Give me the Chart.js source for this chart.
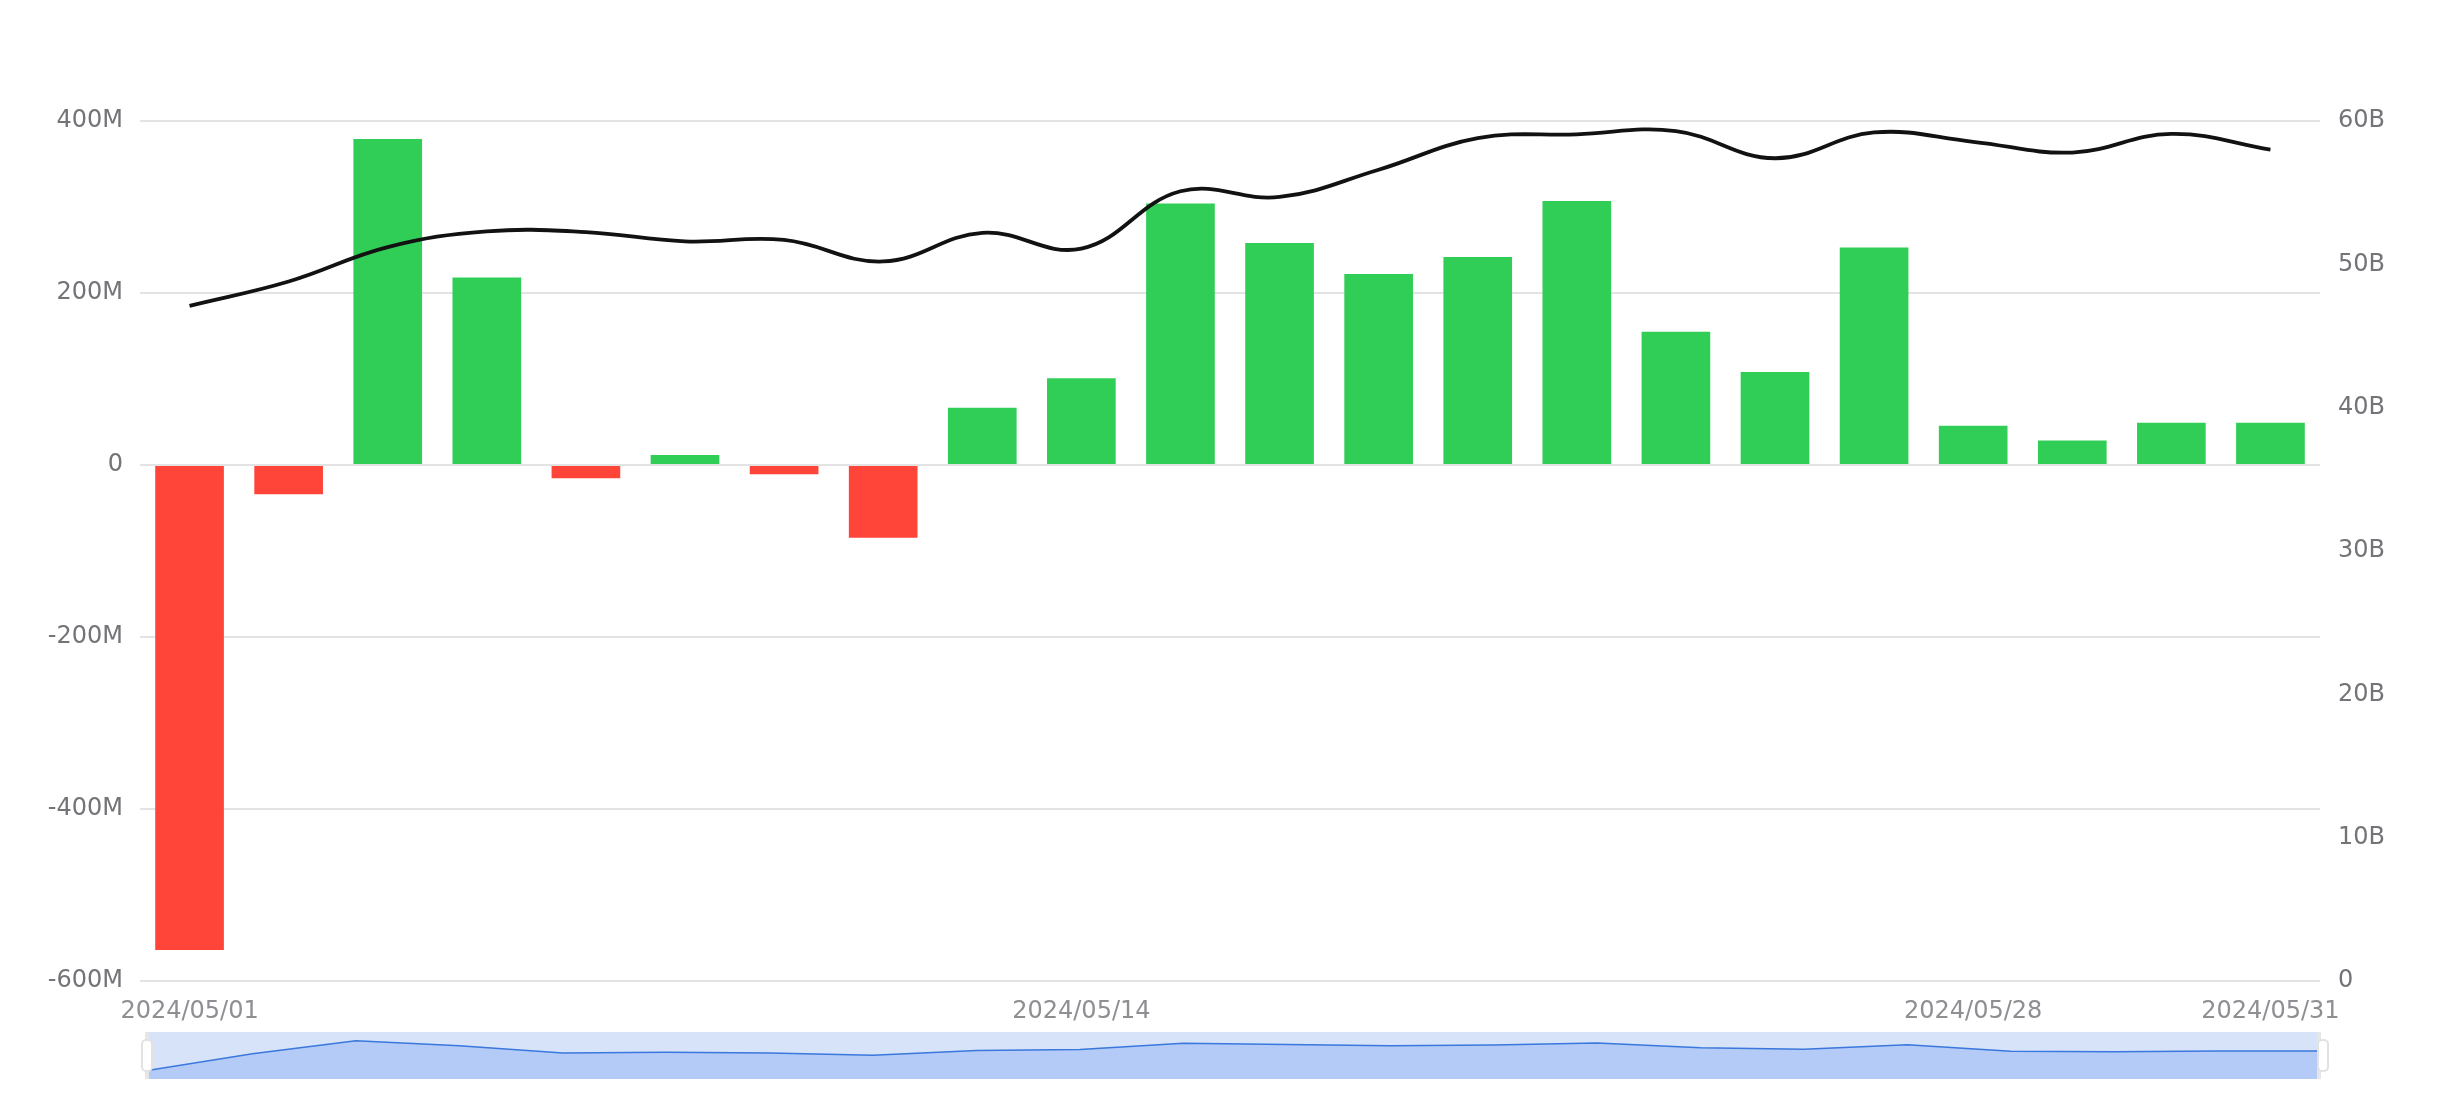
<!DOCTYPE html>
<html>
<head>
<meta charset="utf-8">
<script src="https://cdn.jsdelivr.net/npm/chart.js@4.4.1/dist/chart.umd.min.js"></script>
<style>
  html, body { margin: 0; padding: 0; background: #ffffff; }
  #wrap { position: relative; width: 2460px; height: 1120px; overflow: hidden; }
  #main { position: absolute; left: 0; top: 0; }
  #zoom { position: absolute; left: 149px; top: 1032px; background: #d6e3f9; }
  .bar { position: absolute; background: #e6e6e6; }
  .handle { position: absolute; background: #ffffff; border: 2px solid #e2e2e2; border-radius: 5px; box-sizing: border-box; }
</style>
</head>
<body>
<div id="wrap">
  <canvas id="main" width="2460" height="1120"></canvas>
  <canvas id="zoom" width="2172" height="47"></canvas>
  <div class="bar" style="left:145px;top:1032px;width:4px;height:47px;"></div>
  <div class="handle" style="left:141px;top:1039px;width:12px;height:33px;"></div>
  <div class="bar" style="left:2317px;top:1032px;width:4px;height:47px;"></div>
  <div class="handle" style="left:2317px;top:1039px;width:12px;height:33px;"></div>
</div>
<script>
// ---- data ----
const dates = ['2024/05/01','2024/05/02','2024/05/03','2024/05/06','2024/05/07','2024/05/08','2024/05/09','2024/05/10',
  '2024/05/13','2024/05/14','2024/05/15','2024/05/16','2024/05/17','2024/05/20','2024/05/21','2024/05/22',
  '2024/05/23','2024/05/24','2024/05/28','2024/05/29','2024/05/30','2024/05/31'];
// net flow, millions
const netFlowM = [-564, -34, 379, 218, -15.5, 11.7, -10.9, -84.6, 66.5, 101, 304, 258, 222, 242, 307, 155,
  108, 253, 45.5, 28.4, 49, 49];
// cumulative / total, billions
const totalB = [47.1, 48.8, 51.2, 52.3, 52.25, 51.6, 51.7, 50.2, 52.2, 51.1, 55.1, 54.7, 56.6, 58.8, 59.07, 59.3,
  57.4, 59.2, 58.55, 57.8, 59.1, 58.0];
// x tick labels that are shown
const shownTickIdx = [0, 9, 18, 21];
const leftTicks = [-600, -400, -200, 0, 200, 400];
const rightTicks = [0, 10, 20, 30, 40, 50, 60];

const GREEN = '#31ce57';
const RED = '#ff453a';
const FONT = '"DejaVu Sans", sans-serif';

new Chart(document.getElementById('main'), {
  data: {
    labels: dates,
    datasets: [
      {
        type: 'line',
        data: totalB,
        yAxisID: 'y1',
        borderColor: '#121212',
        borderWidth: 3.8,
        pointRadius: 0,
        tension: 0.4,
        order: 0
      },
      {
        type: 'bar',
        data: netFlowM,
        yAxisID: 'y',
        backgroundColor: netFlowM.map(v => v < 0 ? RED : GREEN),
        barPercentage: 0.693,
        categoryPercentage: 1.0,
        order: 1
      }
    ]
  },
  options: {
    responsive: false,
    animation: false,
    devicePixelRatio: 1,
    layout: { padding: { top: 121, bottom: 0, left: 0, right: 0 } },
    plugins: { legend: { display: false }, tooltip: { enabled: false } },
    scales: {
      x: {
        type: 'category',
        offset: true,
        grid: { display: false, drawTicks: false },
        border: { display: false },
        ticks: {
          autoSkip: false,
          maxRotation: 0,
          minRotation: 0,
          padding: 16,
          color: '#8e8e93',
          font: { family: FONT, size: 24 },
          callback: function (val, idx) { return shownTickIdx.includes(idx) ? dates[idx] : ''; }
        },
        afterFit: s => { s.height = 139; }
      },
      y: {
        position: 'left',
        min: -600, max: 400,
        afterBuildTicks: s => { s.ticks = leftTicks.map(v => ({ value: v })); },
        grid: { color: '#e3e3e3', lineWidth: 2, drawTicks: false },
        border: { display: false },
        ticks: {
          padding: 17,
          color: '#737378',
          font: { family: FONT, size: 24 },
          callback: v => v === 0 ? '0' : v + 'M'
        },
        afterFit: s => { s.width = 140; }
      },
      y1: {
        position: 'right',
        min: 0, max: 60,
        afterBuildTicks: s => { s.ticks = rightTicks.map(v => ({ value: v })); },
        grid: { drawOnChartArea: false, drawTicks: false },
        border: { display: false },
        ticks: {
          padding: 18,
          color: '#737378',
          font: { family: FONT, size: 24 },
          callback: v => v === 0 ? '0' : v + 'B'
        },
        afterFit: s => { s.width = 140; }
      }
    }
  }
});

// data-zoom slider shadow (uses the bar series, extent padded by 30%)
const mn = Math.min(...netFlowM), mx = Math.max(...netFlowM);
const pad = (mx - mn) * 0.3;
new Chart(document.getElementById('zoom'), {
  type: 'line',
  data: {
    labels: dates,
    datasets: [{
      data: netFlowM,
      borderColor: '#3b78dd',
      borderWidth: 1.5,
      backgroundColor: '#b3cbf6',
      fill: 'start',
      pointRadius: 0,
      tension: 0
    }]
  },
  options: {
    responsive: false,
    animation: false,
    devicePixelRatio: 1,
    layout: { padding: 0 },
    plugins: { legend: { display: false }, tooltip: { enabled: false } },
    scales: {
      x: { display: false, offset: false },
      y: { display: false, min: mn - pad, max: mx + pad }
    }
  }
});
</script>
</body>
</html>
